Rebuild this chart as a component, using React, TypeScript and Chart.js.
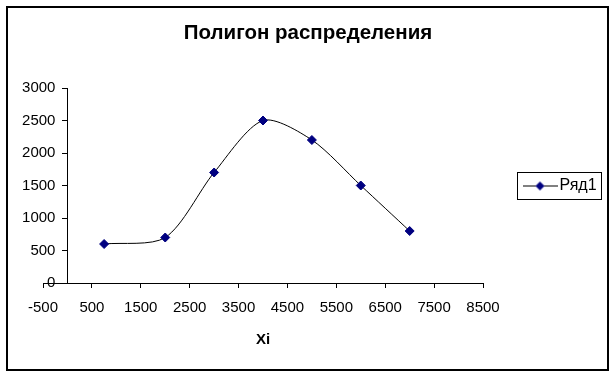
import React, { useEffect, useRef } from "react";
import { Chart, registerables } from "chart.js";

Chart.register(...registerables);

const chartTitle = "Полигон распределения";
const xAxisTitle = "Xi";
const seriesName = "Ряд1";
const xValues = [750, 2000, 3000, 4000, 5000, 6000, 7000];
const yValues = [600, 700, 1700, 2500, 2200, 1500, 800];
const xMin = -500;
const xMax = 8500;
const xStep = 1000;
const yMin = 0;
const yMax = 3000;
const yStep = 500;

const FONT = "'Liberation Sans', Arial, sans-serif";

function makeLegendMarker(): HTMLCanvasElement {
  const c = document.createElement("canvas");
  c.width = 35;
  c.height = 12;
  const ctx = c.getContext("2d")!;
  ctx.strokeStyle = "#000";
  ctx.lineWidth = 1;
  ctx.beginPath();
  ctx.moveTo(0, 6.5);
  ctx.lineTo(35, 6.5);
  ctx.stroke();
  ctx.fillStyle = "#000080";
  ctx.beginPath();
  ctx.moveTo(17.5, 2);
  ctx.lineTo(22, 6.5);
  ctx.lineTo(17.5, 11);
  ctx.lineTo(13, 6.5);
  ctx.closePath();
  ctx.fill();
  return c;
}

const layoutTweaks = {
  id: "layoutTweaks",
  afterLayout(chart: any) {
    const lg = chart.legend;
    if (!lg) return;
    const w = lg.width;
    const h = lg.height;
    lg.left = 518.5;
    lg.right = lg.left + w;
    lg.top = lg.top + 11;
    lg.bottom = lg.top + h;
  },
  beforeDraw(chart: any) {
    // move the y tick labels away from the axis line (tick + gap)
    const s = chart.scales.y;
    if (!s) return;
    const items = s.getLabelItems();
    if (items && !items.__shifted) {
      for (const it of items) {
        it.options.translation[0] -= 12;
      }
      items.__shifted = true;
    }
  },
  afterDraw(chart: any) {
    const lg = chart.legend;
    if (!lg || !lg.legendHitBoxes || !lg.legendHitBoxes.length) return;
    let l = Infinity, t = Infinity, r = -Infinity, b = -Infinity;
    for (const hb of lg.legendHitBoxes) {
      l = Math.min(l, hb.left);
      t = Math.min(t, hb.top);
      r = Math.max(r, hb.left + hb.width);
      b = Math.max(b, hb.top + hb.height);
    }
    const ctx = chart.ctx;
    ctx.save();
    ctx.strokeStyle = "#000";
    ctx.lineWidth = 1;
    const x0 = Math.round(l - 11.5) + 0.5;
    const y0 = Math.round(t - 6) + 0.5;
    const x1 = Math.round(r + 4) + 0.5;
    const y1 = Math.round(b + 5) + 0.5;
    ctx.strokeRect(x0, y0, x1 - x0, y1 - y0);
    ctx.restore();
  },
};

export default function App() {
  const ref = useRef<HTMLCanvasElement | null>(null);
  useEffect(() => {
    if (!ref.current) return;
    const marker = makeLegendMarker();
    const chart = new Chart(ref.current, {
      type: "scatter",
      data: {
        datasets: [
          {
            label: seriesName,
            data: xValues.map((x, i) => ({ x, y: yValues[i] })),
            showLine: true,
            borderColor: "#000",
            borderWidth: 1,
            tension: 0.28,
            pointStyle: "rectRot",
            pointRadius: 4.5,
            pointHoverRadius: 4.5,
            backgroundColor: "#000080",
            pointBorderColor: "#000080",
            pointBackgroundColor: "#000080",
          },
        ],
      },
      options: {
        responsive: false,
        animation: false,
        layout: { padding: { left: 8, right: 8, top: 0, bottom: 28 } },
        plugins: {
          title: {
            display: true,
            text: chartTitle,
            color: "#000",
            font: { family: FONT, size: 20.5, weight: "bold" },
            padding: { top: 21, bottom: 42.4 },
          },
          legend: {
            display: true,
            position: "right",
            align: "center",
            labels: {
              color: "#000",
              font: { family: FONT, size: 16 },
              usePointStyle: true,
              pointStyleWidth: 23,
              boxWidth: 23,
              padding: 10,
              generateLabels: () => [
                {
                  text: seriesName,
                  pointStyle: marker,
                  fillStyle: "#000080",
                  strokeStyle: "#000",
                  lineWidth: 0,
                  hidden: false,
                  datasetIndex: 0,
                },
              ],
            },
          },
          tooltip: { enabled: false },
        },
        scales: {
          x: {
            type: "linear",
            min: xMin,
            max: xMax,
            position: "bottom",
            afterFit: (scale: any) => {
              scale.paddingLeft = 43;
              scale.paddingRight = 133;
            },
            ticks: {
              stepSize: xStep,
              color: "#000",
              font: { family: FONT, size: 15 },
              padding: 11,
              maxRotation: 0,
              autoSkip: false,
              callback: (v: any) => String(v),
            },
            grid: {
              drawOnChartArea: false,
              drawTicks: true,
              tickLength: 5,
              tickColor: "#000",
            },
            border: { color: "#000", width: 1 },
            title: {
              display: true,
              text: xAxisTitle,
              color: "#000",
              font: { family: FONT, size: 15, weight: "bold" },
              padding: { top: 3, bottom: 0 },
            },
          },
          y: {
            type: "linear",
            min: yMin,
            max: yMax,
            position: { x: 0 } as any,
            ticks: {
              stepSize: yStep,
              color: "#000",
              font: { family: FONT, size: 15 },
              padding: 7,
              callback: (v: any) => String(v),
            },
            grid: {
              drawOnChartArea: false,
              drawTicks: true,
              tickLength: 5,
              tickColor: "#000",
            },
            border: { color: "#000", width: 1 },
          },
        },
      } as any,
      plugins: [layoutTweaks],
    });
    return () => chart.destroy();
  }, []);

  return (
    <div style={{ position: "fixed", left: 0, top: 0, width: 616, height: 377, background: "#fff" }}>
      <canvas ref={ref} width={616} height={377} style={{ position: "absolute", left: 0, top: 0 }} />
      <div
        style={{
          position: "absolute",
          left: 6,
          top: 6,
          width: 603,
          height: 365,
          boxSizing: "border-box",
          border: "2px solid #000",
          pointerEvents: "none",
        }}
      />
    </div>
  );
}
